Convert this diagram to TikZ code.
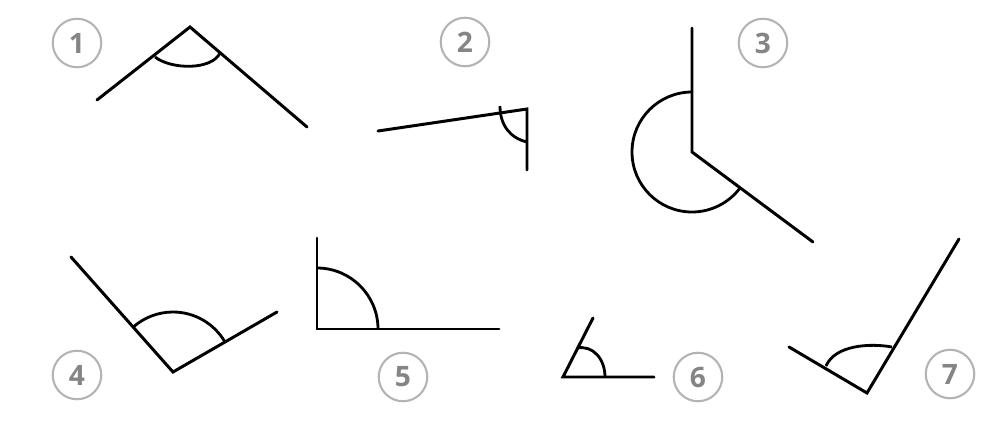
\documentclass[tikz,border=0pt]{standalone}
\usepackage{fontspec}
\setsansfont{Open Sans}
\usetikzlibrary{calc}
\definecolor{ringgray}{HTML}{B4B4B4}
\definecolor{numgray}{HTML}{858585}
\tikzset{
  leg/.style={line width=1.7pt, line cap=round, black},
  arcline/.style={line width=1.6pt, black},
  badge/.style={circle, draw=ringgray, line width=1.2pt, minimum size=0.97cm, inner sep=0pt,
    text=numgray, font=\sffamily\bfseries\fontsize{16}{18}\selectfont}
}
\begin{document}
\begin{tikzpicture}[x=0.02cm,y=0.02cm]
\useasboundingbox[fill=white] (0,0) rectangle (992,441);
% badges
\node[badge] (n1) at (77,398) {1};
\node[badge] (n2) at (465,399) {2};
\node[badge] (n3) at (763,398) {3};
\node[badge] (n4) at (77,66) {4};
\node[badge] (n5) at (403,64) {5};
\node[badge] (n6) at (698,64) {6};
\node[badge] (n7) at (950,67) {7};
% angle 1
\coordinate (v1) at (190,414);
\coordinate (a1) at (97,341);
\coordinate (b1) at (307,314);
\draw[leg] (a1) -- (v1) -- (b1);
\draw[arcline] (155,384) .. controls (172,371) and (212,371) .. (220,388);
% angle 2
\coordinate (v2) at (527,332);
\coordinate (a2) at (378,310);
\coordinate (b2) at (527,271);
\draw[leg] (a2) -- (v2) -- (b2);
\draw[arcline] (500,335) .. controls (500,316) and (510,303) .. (527,299);
% angle 3
\coordinate (v3) at (692,289);
\coordinate (a3) at (692,413);
\coordinate (b3) at (813,199);
\draw[leg] (a3) -- (v3) -- (b3);
\draw[arcline] (692,349) arc[start angle=90, end angle=323.4, radius=60];
% angle 4
\coordinate (v4) at (173,69);
\coordinate (a4) at (71,184);
\coordinate (b4) at (277,129);
\draw[leg] (a4) -- (v4) -- (b4);
\draw[arcline] ($(v4)+(30:60)$) arc[start angle=30, end angle=131.6, radius=60];
% angle 5
\coordinate (v5) at (317,112);
\coordinate (a5) at (317,203);
\coordinate (b5) at (499,112);
\draw[leg] (a5) -- (v5) -- (b5);
\draw[arcline] (378,112) arc[start angle=0, end angle=90, radius=61];
% angle 6
\coordinate (v6) at (563,64);
\coordinate (a6) at (593,123);
\coordinate (b6) at (654,64);
\draw[leg] (a6) -- (v6) -- (b6);
\draw[arcline] (577,93) .. controls (593,96) and (605,82) .. (605,64);
% angle 7
\coordinate (v7) at (867,48);
\coordinate (a7) at (789,94);
\coordinate (b7) at (959,202);
\draw[leg] (a7) -- (v7) -- (b7);
\draw[arcline] (826,75) .. controls (835,96) and (870,98) .. (892,94);
\end{tikzpicture}
\end{document}
